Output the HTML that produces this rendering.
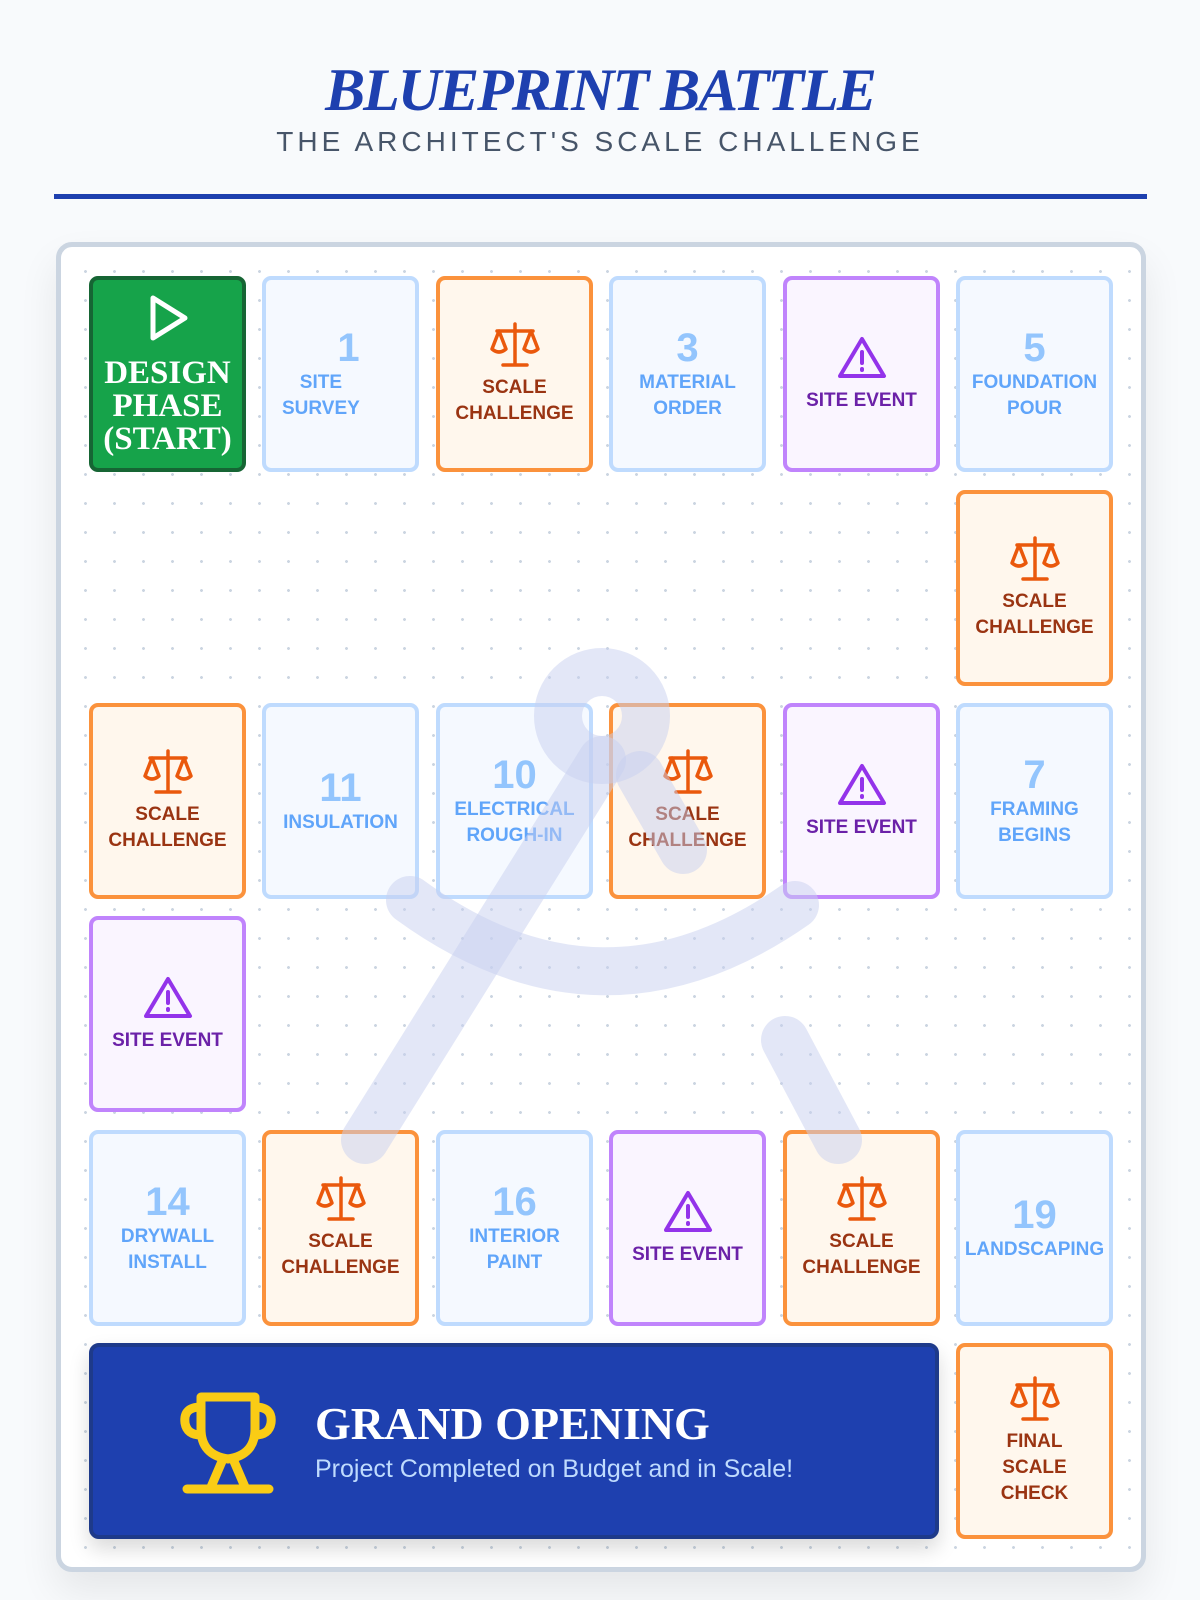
<!DOCTYPE html>
<html><head><meta charset="utf-8"><style>
*{box-sizing:border-box;margin:0;padding:0}
body{width:1200px;height:1600px;background:#f8fafc;font-family:"Liberation Sans",sans-serif;position:relative;overflow:hidden}
.t{position:absolute;left:0;width:1200px;text-align:center}
.board{position:absolute;left:56px;top:242px;width:1090px;height:1330px;border:5px solid #cbd5e1;border-radius:16px;background-color:#fff;background-image:radial-gradient(#cbd5e1 1.3px,transparent 1.6px);background-size:29px 29px;background-position:10px 10px;box-shadow:0 20px 40px rgba(0,0,0,.08)}
.c{position:absolute;width:157px;height:196px;border:4px solid;border-radius:9px;display:flex;flex-direction:column;align-items:center;justify-content:center;text-align:center;font-weight:bold;font-size:19px;line-height:26px}
.b{background:#f5f9ff;border-color:#bfdbfe;color:#60a5fa}
.b .n{font-size:40px;line-height:44px;color:#93c5fd}
.o{background:#fff7ed;border-color:#fb923c;color:#9a3412}
.p{background:#faf5ff;border-color:#c084fc;color:#6b21a8}
svg.i{display:block;margin-bottom:6px}
</style></head><body>
<div class="t" style="top:56px;font-family:'Liberation Serif',serif;font-style:italic;font-weight:bold;font-size:60px;color:#1e40af;letter-spacing:-2px">BLUEPRINT BATTLE</div>
<div class="t" style="top:126px;font-size:28px;color:#475569;letter-spacing:4px">THE ARCHITECT'S SCALE CHALLENGE</div>
<div style="position:absolute;left:54px;top:194px;width:1093px;height:5px;background:#1e40af"></div>
<div class="board"></div>

<div class="c" style="left:89px;top:276px;background:#16a34a;border-color:#166534;color:#fff;font-family:'Liberation Serif',serif;font-size:33px;line-height:33px">
<svg width="46" height="50" viewBox="0 0 46 50" style="margin-bottom:14px"><path d="M8 5 L40 25 L8 45 Z" fill="none" stroke="#fff" stroke-width="5" stroke-linejoin="round"/></svg>DESIGN<br>PHASE<br>(START)</div>

<div class="c b" style="left:262px;top:276px;align-items:flex-start;padding-left:16px"><div class="n" style="align-self:center">1</div>SITE<br>SURVEY</div>
<div class="c o" style="left:436px;top:276px">SC</div>
<div class="c b" style="left:609px;top:276px"><div class="n">3</div>MATERIAL<br>ORDER</div>
<div class="c p" style="left:783px;top:276px">SE</div>
<div class="c b" style="left:956px;top:276px"><div class="n">5</div>FOUNDATION<br>POUR</div>

<div class="c o" style="left:956px;top:490px">SC</div>

<div class="c o" style="left:89px;top:703px">SC</div>
<div class="c b" style="left:262px;top:703px"><div class="n">11</div>INSULATION</div>
<div class="c b" style="left:436px;top:703px"><div class="n">10</div>ELECTRICAL<br>ROUGH-IN</div>
<div class="c o" style="left:609px;top:703px">SC</div>
<div class="c p" style="left:783px;top:703px">SE</div>
<div class="c b" style="left:956px;top:703px"><div class="n">7</div>FRAMING<br>BEGINS</div>

<div class="c p" style="left:89px;top:916px">SE</div>

<div class="c b" style="left:89px;top:1130px"><div class="n">14</div>DRYWALL<br>INSTALL</div>
<div class="c o" style="left:262px;top:1130px">SC</div>
<div class="c b" style="left:436px;top:1130px"><div class="n">16</div>INTERIOR<br>PAINT</div>
<div class="c p" style="left:609px;top:1130px">SE</div>
<div class="c o" style="left:783px;top:1130px">SC</div>
<div class="c b" style="left:956px;top:1130px"><div class="n">19</div>LANDSCAPING</div>

<div style="position:absolute;left:89px;top:1343px;width:850px;height:196px;background:#1e40af;border:4px solid #1e3a8a;border-radius:10px;box-shadow:0 10px 20px rgba(0,0,0,.15)">
<svg width="110" height="110" viewBox="0 0 110 110" style="position:absolute;left:80px;top:42px"><g fill="none" stroke="#facc15" stroke-width="9" stroke-linejoin="round" stroke-linecap="round"><path d="M28 8 H82 V40 Q82 66 55 70 Q28 66 28 40 Z"/><path d="M28 18 Q10 18 12 34 Q14 46 28 46"/><path d="M82 18 Q100 18 98 34 Q96 46 82 46"/><path d="M50 70 L38 98 M60 70 L72 98"/><path d="M14 100 H96"/></g></svg>
<div style="position:absolute;left:222px;top:50px;font-family:'Liberation Serif',serif;font-weight:bold;font-size:46px;color:#fff">GRAND OPENING</div>
<div style="position:absolute;left:222px;top:108px;font-size:25px;color:#bfdbfe">Project Completed on Budget and in Scale!</div>
</div>
<div class="c o" style="left:956px;top:1343px">SC3</div>

<svg width="1200" height="1600" style="position:absolute;left:0;top:0;pointer-events:none" viewBox="0 0 1200 1600"><g fill="none" stroke="#c7d0f0" stroke-opacity="0.5" stroke-width="48" stroke-linecap="round"><circle cx="602" cy="716" r="44"/><path d="M410 900 Q602 1040 795 905"/><path d="M602 760 L365 1140"/><path d="M785 1040 L838 1140"/><path d="M640 775 L683 850"/></g></svg>

<script>
var sc='<svg class="i" width="52" height="48" viewBox="0 0 52 48"><g fill="none" stroke="#ea580c" stroke-width="3.5" stroke-linecap="round" stroke-linejoin="round"><path d="M26 3 V42 M14 44 H38 M8 10 H44 M26 6 L26 10"/><path d="M10 10 L3 28 Q10 34 17 28 Z M42 10 L35 28 Q42 34 49 28 Z"/></g></svg>';
var se='<svg class="i" width="52" height="48" viewBox="0 0 52 48"><g fill="none" stroke="#9333ea" stroke-width="4" stroke-linecap="round" stroke-linejoin="round"><path d="M26 5 L48 42 H4 Z"/><path d="M26 18 V29 M26 35 V36"/></g></svg>';
document.querySelectorAll('.c').forEach(function(e){
if(e.textContent=='SC')e.innerHTML=sc+'SCALE<br>CHALLENGE';
if(e.textContent=='SC3')e.innerHTML=sc+'FINAL<br>SCALE<br>CHECK';
if(e.textContent=='SE')e.innerHTML=se+'SITE EVENT';});
</script>
</body></html>
